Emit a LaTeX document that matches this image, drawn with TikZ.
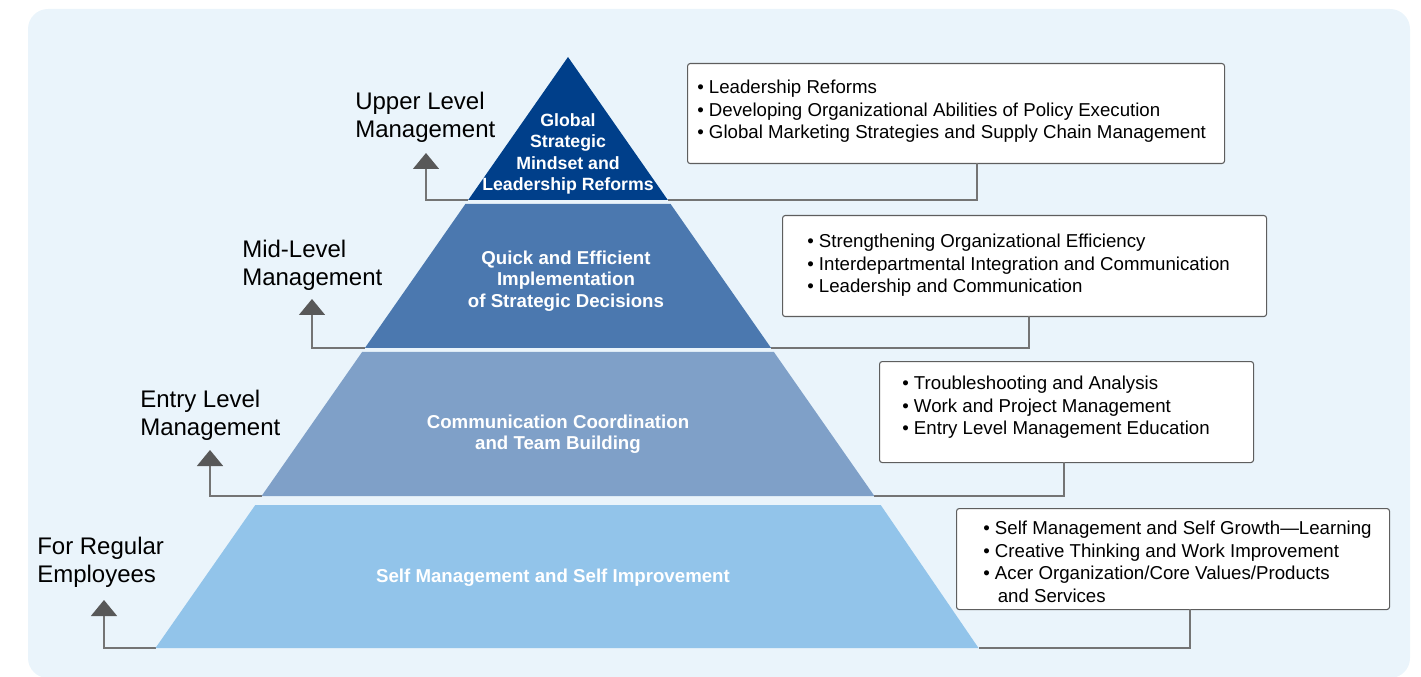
\documentclass[tikz,border=0pt]{standalone}
\usepackage{fontspec}
\setmainfont{Liberation Sans}
\usetikzlibrary{arrows.meta}
\definecolor{bgblue}{HTML}{EAF4FB}
\definecolor{tierA}{HTML}{003F8A}
\definecolor{tierB}{HTML}{4B78AF}
\definecolor{tierC}{HTML}{7FA0C8}
\definecolor{tierD}{HTML}{92C4EA}
\definecolor{linkgray}{HTML}{747474}
\definecolor{tipgray}{HTML}{585858}
\definecolor{boxgray}{HTML}{5E5E5E}
\tikzset{
  tiertext/.style={text=white, font=\bfseries\fontsize{14}{16.1}\selectfont, align=center, inner sep=0pt},
  levellabel/.style={anchor=west, font=\fontsize{18}{21}\selectfont, align=left, inner sep=0pt},
  listbox/.style={draw=boxgray, fill=white, rounded corners=2pt, line width=0.8pt, anchor=north west, inner sep=0pt},
  listtext/.style={anchor=north west, font=\fontsize{14}{16.9}\selectfont, align=left, inner sep=0pt},
  link/.style={draw=linkgray, line width=1.1pt},
  uplink/.style={link, -{Triangle[width=19.5pt, length=12pt, color=tipgray]}},
}
\begin{document}
\begin{tikzpicture}[x=0.75pt, y=-0.75pt]
  \useasboundingbox (0,0) rectangle (1421,677);
  \fill[bgblue, rounded corners=15pt] (28,9) rectangle (1410,678);

  \coordinate (t1l) at (468.2,200);
  \coordinate (t1r) at (667.8,200);
  \coordinate (t2l) at (364.9,348);
  \coordinate (t2r) at (771.1,348);
  \coordinate (t3l) at (261.6,496);
  \coordinate (t3r) at (874.4,496);
  \coordinate (t4l) at (155.5,648);
  \coordinate (t4r) at (978.5,648);

  \coordinate (up1) at (426,153);
  \coordinate (up2) at (312,299);
  \coordinate (up3) at (210,450);
  \coordinate (up4) at (104,600);

  \node[listbox, minimum width=402.75pt, minimum height=75pt] (box1) at (687,63) {};
  \node[listbox, minimum width=363pt, minimum height=75.75pt] (box2) at (782,215) {};
  \node[listbox, minimum width=280.5pt, minimum height=75.75pt] (box3) at (879,361) {};
  \node[listbox, minimum width=324.75pt, minimum height=75.75pt] (box4) at (956,508) {};

  \coordinate (c1) at (977,163);
  \coordinate (c2) at (1029,316);
  \coordinate (c3) at (1064,462);
  \coordinate (c4) at (1190,609);

  \draw[uplink] (t1l) -| (up1);
  \draw[uplink] (t2l) -| (up2);
  \draw[uplink] (t3l) -| (up3);
  \draw[uplink] (t4l) -| (up4);
  \draw[link] (c1) |- (t1r);
  \draw[link] (c2) |- (t2r);
  \draw[link] (c3) |- (t3r);
  \draw[link] (c4) |- (t4r);

  \fill[tierA] (568,57) -- (t1r) -- (t1l) -- cycle;
  \fill[tierB] (465.4,204) -- (670.6,204) -- (t2r) -- (t2l) -- cycle;
  \fill[tierC] (362.1,352) -- (773.9,352) -- (t3r) -- (t3l) -- cycle;
  \fill[tierD] (255.3,505) -- (880.7,505) -- (t4r) -- (t4l) -- cycle;

  \node[tiertext, font=\bfseries\fontsize{13.3}{16}\selectfont] (tier1) at (568,154) {Global\\Strategic\\Mindset and\\Leadership Reforms};
  \node[tiertext] (tier2) at (566,281) {Quick and Efficient\\Implementation\\of Strategic Decisions};
  \node[tiertext] (tier3) at (558,434) {Communication Coordination\\and Team Building};
  \node[tiertext] (tier4) at (553,578) {Self Management and Self Improvement};

  \node[levellabel] (upper) at (355,117) {Upper Level\\Management};
  \node[levellabel] (mid) at (242,265) {Mid-Level\\Management};
  \node[levellabel] (entry) at (140,415) {Entry Level\\Management};
  \node[levellabel] (regular) at (37,562) {For Regular\\Employees};

  \node[listtext] (list1) at (697,80) {• Leadership Reforms\\• Developing Organizational Abilities of Policy Execution\\• Global Marketing Strategies and Supply Chain Management};
  \node[listtext] (list2) at (807,234) {• Strengthening Organizational Efficiency\\• Interdepartmental Integration and Communication\\• Leadership and Communication};
  \node[listtext] (list3) at (902,376) {• Troubleshooting and Analysis\\• Work and Project Management\\• Entry Level Management Education};
  \node[listtext] (list4) at (983,521) {• Self Management and Self Growth—Learning\\• Creative Thinking and Work Improvement\\• Acer Organization/Core Values/Products\\\hspace{0.78em}and Services};
\end{tikzpicture}
\end{document}
